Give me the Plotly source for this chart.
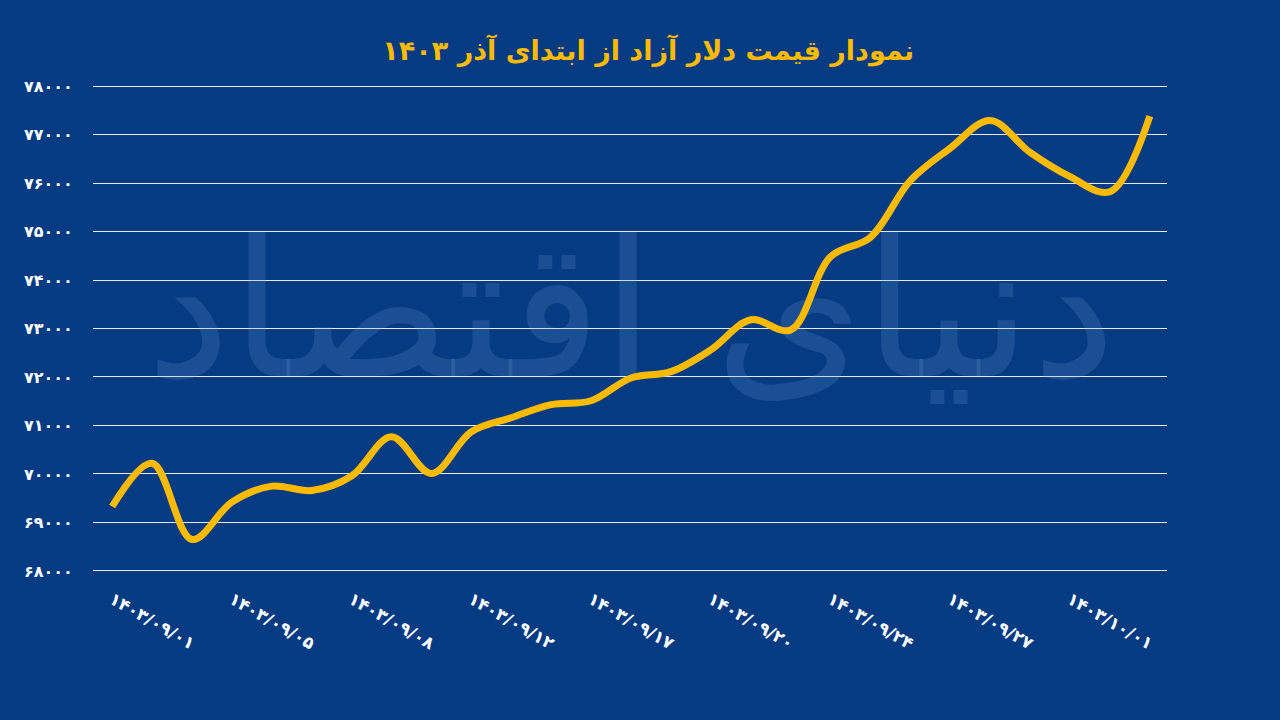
import plotly.graph_objects as go

dates = ["۱۴۰۳/۰۹/۰۱", "۱۴۰۳/۰۹/۰۳", "۱۴۰۳/۰۹/۰۴", "۱۴۰۳/۰۹/۰۵", "۱۴۰۳/۰۹/۰۶", "۱۴۰۳/۰۹/۰۷",
         "۱۴۰۳/۰۹/۰۸", "۱۴۰۳/۰۹/۱۰", "۱۴۰۳/۰۹/۱۱", "۱۴۰۳/۰۹/۱۲", "۱۴۰۳/۰۹/۱۳", "۱۴۰۳/۰۹/۱۴",
         "۱۴۰۳/۰۹/۱۵", "۱۴۰۳/۰۹/۱۷", "۱۴۰۳/۰۹/۱۸", "۱۴۰۳/۰۹/۱۹", "۱۴۰۳/۰۹/۲۰", "۱۴۰۳/۰۹/۲۱",
         "۱۴۰۳/۰۹/۲۲", "۱۴۰۳/۰۹/۲۴", "۱۴۰۳/۰۹/۲۵", "۱۴۰۳/۰۹/۲۶", "۱۴۰۳/۰۹/۲۷", "۱۴۰۳/۰۹/۲۸",
         "۱۴۰۳/۰۹/۲۹", "۱۴۰۳/۱۰/۰۱", "۱۴۰۳/۱۰/۰۲"]
prices = [69330, 70220, 68650, 69420, 69750, 69660, 69960, 70770, 70010, 70870,
          71160, 71430, 71510, 71980, 72110, 72560, 73180, 72970, 74480, 74880,
          76050, 76720, 77290, 76630, 76130, 75820, 77380]

tick_labels = ["۱۴۰۳/۰۹/۰۱", "۱۴۰۳/۰۹/۰۵", "۱۴۰۳/۰۹/۰۸", "۱۴۰۳/۰۹/۱۲", "۱۴۰۳/۰۹/۱۷",
               "۱۴۰۳/۰۹/۲۰", "۱۴۰۳/۰۹/۲۴", "۱۴۰۳/۰۹/۲۷", "۱۴۰۳/۱۰/۰۱"]
tick_idx = [0, 3, 6, 9, 12, 15, 18, 21, 24]
y_ticks = [68000, 69000, 70000, 71000, 72000, 73000, 74000, 75000, 76000, 77000, 78000]
y_tick_text = ["۶۸۰۰۰", "۶۹۰۰۰", "۷۰۰۰۰", "۷۱۰۰۰", "۷۲۰۰۰", "۷۳۰۰۰", "۷۴۰۰۰",
               "۷۵۰۰۰", "۷۶۰۰۰", "۷۷۰۰۰", "۷۸۰۰۰"]

title = "نمودار قیمت دلار آزاد از ابتدای آذر ۱۴۰۳"
watermark = "دنیای اقتصاد"

BG = "#043b83"
YELLOW = "#fdbb00"
FONT = "DejaVu Sans, Noto Sans, sans-serif"

x = list(range(len(prices)))

fig = go.Figure()
fig.add_trace(go.Scatter(
    x=[13], y=[73000], mode="text", text=[watermark],
    textfont=dict(size=190, color="rgba(120,160,215,0.2)", family=FONT),
    hoverinfo="skip", showlegend=False))
fig.add_trace(go.Scatter(
    x=x, y=prices, mode="lines",
    line=dict(color=YELLOW, width=7, shape="spline", smoothing=1.0),
    showlegend=False, hoverinfo="skip"))

fig.update_layout(
    width=1280, height=720,
    paper_bgcolor=BG, plot_bgcolor=BG,
    margin=dict(l=93, r=113, t=80, b=140),
    title=dict(text=title, x=0.517, xref="paper", xanchor="center", y=0.93, yanchor="middle",
               font=dict(size=27, color=YELLOW, family="DejaVu Sans", weight="bold")),
    font=dict(family=FONT, color="white"),
    xaxis=dict(range=[-0.48, 26.43], tickvals=tick_idx, ticktext=tick_labels,
               tickangle=30, showgrid=False, zeroline=False, showline=False,
               ticks="outside", ticklen=2, tickcolor=BG,
               tickfont=dict(size=17, color="white", family=FONT, weight="bold")),
    yaxis=dict(range=[67814, 78124], tickvals=y_ticks, ticktext=y_tick_text,
               showgrid=True, gridcolor="rgba(255,255,255,0.9)", gridwidth=1,
               zeroline=False, showline=False,
               ticks="outside", ticklen=16, tickcolor=BG,
               tickfont=dict(size=16, color="white", family=FONT, weight="bold")),
)

fig.write_html("out.html")
